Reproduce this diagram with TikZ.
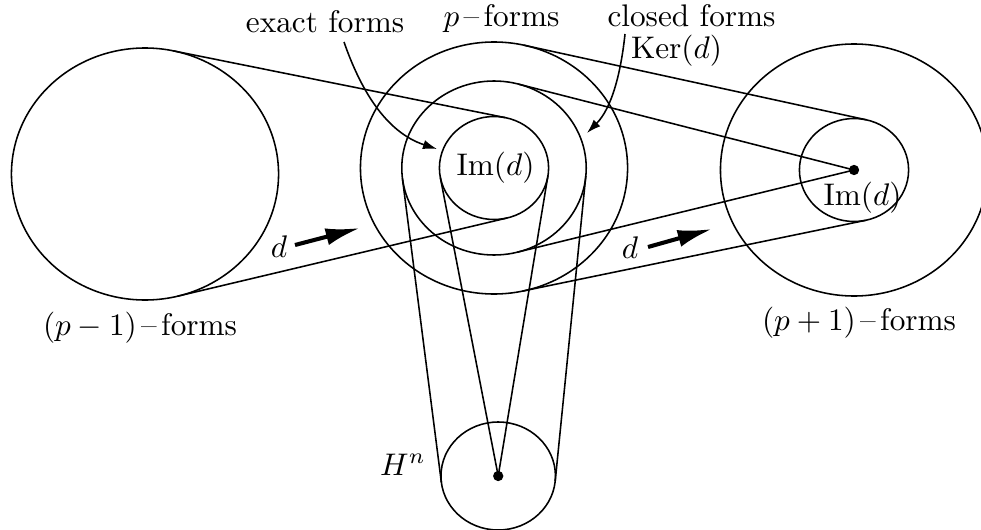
\documentclass[tikz,border=0pt]{standalone}
\usetikzlibrary{arrows.meta}
\begin{document}
\begin{tikzpicture}[x=0.32pt,y=-0.32pt,line width=0.5pt,
  txt/.style={anchor=base,inner sep=0pt},
  dotmark/.style={fill,circle,inner sep=0pt,minimum size=3.3pt},
  thinarrow/.style={-{Latex[length=4.5pt,width=3pt]}},
  boldarrow/.style={line width=1.3pt,-{Latex[length=11pt,width=5.5pt]}}]
\useasboundingbox (0,0) rectangle (981,529);
% circles
\draw (145,174) ellipse [x radius=133.56, y radius=126];
\draw (494,168) ellipse [x radius=133.56, y radius=126];
\draw (494,168) ellipse [x radius=92.22, y radius=87];
\draw (494,168) ellipse [x radius=54.59, y radius=51.5];
\draw (854,170) ellipse [x radius=133.56, y radius=126];
\draw (854,170) ellipse [x radius=54.59, y radius=51.5];
\draw (498.2,476) ellipse [x radius=57.24, y radius=54];
% dots
\node[dotmark] (rdot) at (854,170) {};
\node[dotmark] (bdot) at (498.2,476) {};
% tangent points
\coordinate (Ltop) at (172.85,50.77);
\coordinate (ImTop) at (505.34,117.63);
\coordinate (Lbot) at (177.59,296.19);
\coordinate (ImBot) at (507.27,217.94);
\coordinate (Mtop) at (524.02,45.23);
\coordinate (Rtop) at (866.33,119.82);
\coordinate (Mbot) at (522.48,291.09);
\coordinate (Rbot) at (865.70,220.31);
\coordinate (KerTop) at (518.11,84.03);
\coordinate (KerBot) at (517.06,252.23);
\coordinate (ImRight) at (547.89,175.95);
\coordinate (ImLeft) at (440.26,177.27);
\coordinate (KerRight) at (585.77,176.20);
\coordinate (Bright) at (555.19,481.09);
\coordinate (KerLeft) at (402.41,178.44);
\coordinate (Bleft) at (441.37,482.48);
% connectors
\draw (Ltop) -- (ImTop);
\draw (Lbot) -- (ImBot);
\draw (Mtop) -- (Rtop);
\draw (Mbot) -- (Rbot);
\draw (KerTop) -- (rdot.center);
\draw (KerBot) -- (rdot.center);
\draw (ImLeft) -- (bdot.center);
\draw (ImRight) -- (bdot.center);
\draw (KerLeft) -- (Bleft);
\draw (KerRight) -- (Bright);
% labels
\node[txt] (exact) at (325,33) {exact forms};
\node[txt] (pforms) at (501.5,27) {$p$\kern1.4pt--\kern1.4pt forms};
\node[txt] (closed) at (691.5,27) {closed forms};
\node[txt] (ker) at (676.5,59) {$\mathrm{Ker}(d)$};
\node[txt] (imM) at (495.5,175) {$\mathrm{Im}(d)$};
\node[txt] (imR) at (862.5,205) {$\mathrm{Im}(d)$};
\node[txt] (pm1) at (140,335) {$(p-1)$\kern1.4pt--\kern1.4pt forms};
\node[txt] (pp1) at (859,330) {$(p+1)$\kern1.4pt--\kern1.4pt forms};
\node[txt] (hn) at (403,475) {$H^n$};
\node[txt] (d1) at (279,257) {$d$};
\node[txt] (d2) at (630,258) {$d$};
% curved label arrows
\coordinate (exS) at (344,42);
\coordinate (exE) at (437,149);
\draw[thinarrow] (exS) .. controls (360,88) and (385,132) .. (exE);
\coordinate (clS) at (625,34);
\coordinate (clE) at (587,133);
\draw[thinarrow] (clS) .. controls (621,72) and (612,108) .. (clE);
% bold d arrows
\coordinate (a1s) at (295,245);
\coordinate (a1e) at (360,228);
\coordinate (a2s) at (648,247);
\coordinate (a2e) at (712,229);
\draw[boldarrow] (a1s) -- (a1e);
\draw[boldarrow] (a2s) -- (a2e);
\end{tikzpicture}
\end{document}
